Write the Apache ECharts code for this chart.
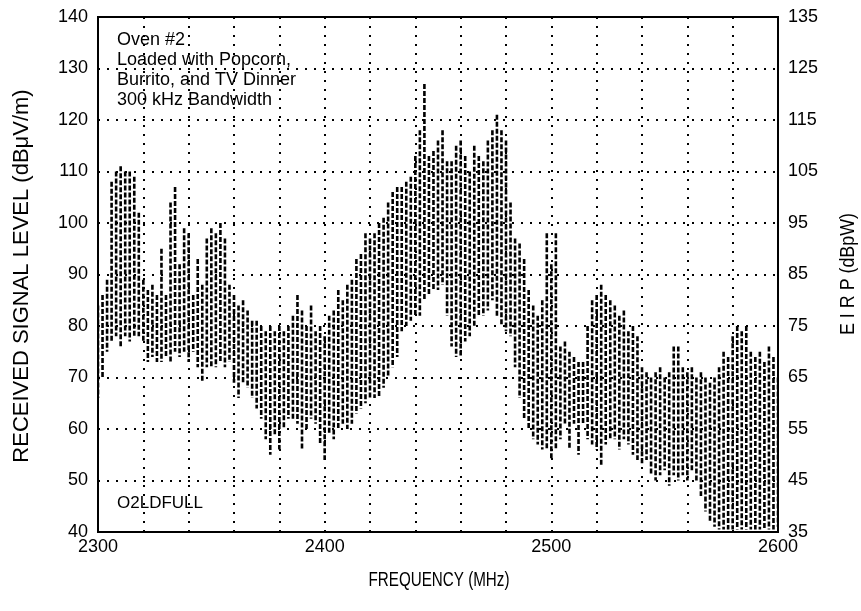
<!DOCTYPE html>
<html>
<head>
<meta charset="utf-8">
<script src="https://cdn.jsdelivr.net/npm/echarts@6/dist/echarts.min.js"></script>
<style>
html,body{margin:0;padding:0;background:#fff;}
#chart{width:861px;height:611px;}
</style>
</head>
<body>
<div id="chart"></div>
<script>
// Frequency samples (MHz)
const freq = [2300,2302,2304,2306,2308,2310,2312,2314,2316,2318,2320,2322,2324,2326,2328,2330,2332,2334,2336,2338,2340,2342,2344,2346,2348,2350,2352,2354,2356,2358,2360,2362,2364,2366,2368,2370,2372,2374,2376,2378,2380,2382,2384,2386,2388,2390,2392,2394,2396,2398,2400,2402,2404,2406,2408,2410,2412,2414,2416,2418,2420,2422,2424,2426,2428,2430,2432,2434,2436,2438,2440,2442,2444,2446,2448,2450,2452,2454,2456,2458,2460,2462,2464,2466,2468,2470,2472,2474,2476,2478,2480,2482,2484,2486,2488,2490,2492,2494,2496,2498,2500,2502,2504,2506,2508,2510,2512,2514,2516,2518,2520,2522,2524,2526,2528,2530,2532,2534,2536,2538,2540,2542,2544,2546,2548,2550,2552,2554,2556,2558,2560,2562,2564,2566,2568,2570,2572,2574,2576,2578,2580,2582,2584,2586,2588,2590,2592,2594,2596,2598,2600];
// Peak (max) received level, dBuV/m
const high = [84,86,89,108,110,111,110,110,109,102,89,87,88,86,95,86,104,107,92,99,98,86,93,88,97,99,98,100,97,88,86,84,85,83,81,81,80,79,80,79,80,79,80,82,86,83,80,84,79,80,78,82,83,87,85,88,89,93,94,98,97,98,100,101,104,106,107,107,108,109,113,118,127,113,114,116,118,112,112,115,116,113,110,115,113,112,116,118,121,118,116,104,97,96,93,87,84,82,85,98,92,98,76,77,75,74,73,73,80,85,86,88,86,85,84,82,83,79,80,78,72,71,70,71,72,70,71,76,76,72,71,72,70,71,70,69,70,72,75,74,78,80,79,80,75,74,75,73,76,74,70];
// Minimum received level, dBuV/m
const low = [66,70,75,77,78,76,78,77,78,78,77,73,74,73,73,74,73,75,74,75,73,75,72,69,72,72,72,73,72,73,69,66,69,68,66,64,62,58,55,59,56,60,62,62,61,56,60,62,61,57,54,59,58,60,61,60,61,63,64,65,66,66,66,68,70,72,74,79,80,81,82,82,85,86,87,87,88,82,76,74,74,77,78,80,82,82,83,85,82,80,79,78,72,66,62,60,58,57,56,56,54,56,58,61,56,61,55,61,58,57,56,53,57,58,58,56,58,57,55,54,53,54,51,50,51,52,49,51,50,51,50,52,50,47,44,42,41,40.5,40.5,40.5,40.5,40.5,40.5,40.5,40.5,40.5,40.5,40.5,40.5,40.5,41];

const xTicks = [2300,2400,2500,2600];
const notes = ['Oven #2','Loaded with Popcorn,','Burrito, and TV Dinner','300 kHz Bandwidth'];
const fileTag = 'O2LDFULL';
const xTitle = 'FREQUENCY (MHz)';
const yTitle = 'RECEIVED SIGNAL LEVEL (dB\u03BCV/m)';
const y2Title = 'E I R P (dBpW)';

const FONT = "'Liberation Sans', Arial, sans-serif";
const chart = echarts.init(document.getElementById('chart'), null, {renderer:'canvas'});
const dotted = {color:'#000', width:2, type:[2,7]};

chart.setOption({
  animation:false,
  backgroundColor:'#fff',
  grid:{left:98,right:83,top:17,bottom:79,show:true,borderColor:'#000',borderWidth:2,backgroundColor:'transparent'},
  xAxis:{
    type:'value',min:2300,max:2600,interval:20,
    axisLine:{show:true,lineStyle:{color:'#000',width:2}},
    axisTick:{show:false},
    axisLabel:{fontFamily:FONT,fontSize:18,color:'#000',margin:6,showMinLabel:true,showMaxLabel:true,
      formatter:v=> xTicks.indexOf(v)>=0 ? String(v) : ''},
    splitLine:{show:true,lineStyle:dotted}
  },
  yAxis:[{
    type:'value',min:40,max:140,interval:10,position:'left',
    axisLine:{show:true,lineStyle:{color:'#000',width:2}},
    axisTick:{show:false},
    axisLabel:{fontFamily:FONT,fontSize:18,color:'#000',margin:10},
    splitLine:{show:true,lineStyle:dotted}
  },{
    type:'value',min:40,max:140,interval:10,position:'right',
    axisLine:{show:true,lineStyle:{color:'#000',width:2}},
    axisTick:{show:false},
    axisLabel:{fontFamily:FONT,fontSize:18,color:'#000',margin:10,formatter:v=>String(v-5)},
    splitLine:{show:false}
  }],
  graphic:[
    {type:'text',left:117,top:30,style:{text:notes.join('\n'),fontFamily:FONT,fontSize:18,lineHeight:20,fill:'#000'}},
    {type:'text',left:117,top:495,style:{text:fileTag,fontFamily:FONT,fontSize:17,fill:'#000'}},
    {type:'text',x:439,y:580,scaleX:0.76,style:{text:xTitle,fontFamily:FONT,fontSize:20,fill:'#000',textAlign:'center',textVerticalAlign:'middle'}},
    {type:'text',x:22,y:276,rotation:Math.PI/2,scaleX:1.0,style:{text:yTitle,fontFamily:FONT,fontSize:22,fill:'#000',textAlign:'center',textVerticalAlign:'middle'}},
    {type:'text',x:848,y:274,rotation:Math.PI/2,scaleX:0.85,style:{text:y2Title,fontFamily:FONT,fontSize:21,fill:'#000',textAlign:'center',textVerticalAlign:'middle'}}
  ],
  series:[{
    type:'custom',
    name:'spectrum',
    clip:true,
    encode:{x:0,y:[1,2]},
    data:freq.map((f,i)=>[f,low[i],high[i]]),
    renderItem:function(params,api){
      const f = api.value(0);
      const p1 = api.coord([f, api.value(2)]);
      const p2 = api.coord([f, api.value(1)]);
      return {type:'line',shape:{x1:p1[0],y1:p1[1],x2:p2[0],y2:p2[1]},
        style:{stroke:'#000',lineWidth:2.6,lineDash:[5,2]}};
    }
  }]
});
</script>
</body>
</html>
